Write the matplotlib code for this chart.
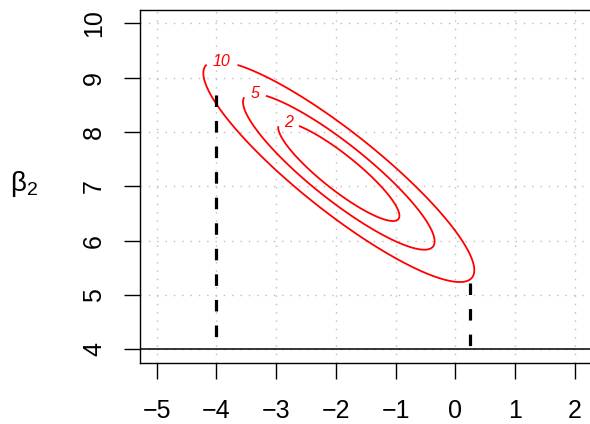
import numpy as np
import matplotlib.pyplot as plt

plt.rcParams["font.family"] = ["Liberation Sans", "DejaVu Sans"]
plt.rcParams["mathtext.fontset"] = "custom"
plt.rcParams["mathtext.rm"] = "Liberation Sans"

# ellipse (quadratic form)
center = np.array([-1.95, 7.27])
cov = np.array([[0.515, -0.411], [-0.411, 0.412]])
levels = [2, 5, 10]
label_pos = [(-2.81, 8.11), (-3.36, 8.70), (-3.91, 9.27)]

# dashed interval lines and the horizontal reference
ci_x = [-4.0, 0.25]
ci_top = [8.68, 5.22]
h_ref = 4

x_ticks = [-5, -4, -3, -2, -1, 0, 1, 2]
y_ticks = [4, 5, 6, 7, 8, 9, 10]


def main():
    fig = plt.figure(figsize=(5.9, 4.24), dpi=100)
    ax = fig.add_axes([0.2373, 0.145, 0.765, 0.831])

    gx = np.linspace(-5.3, 2.3, 500)
    gy = np.linspace(3.7, 10.3, 500)
    X, Y = np.meshgrid(gx, gy)
    A = np.linalg.inv(cov)
    dx, dy = X - center[0], Y - center[1]
    Z = A[0, 0] * dx**2 + 2 * A[0, 1] * dx * dy + A[1, 1] * dy**2

    # dotted grid
    for v in x_ticks:
        ax.axvline(v, color="#bdbdbd", lw=1, dashes=(1, 5), zorder=0)
    for v in y_ticks:
        ax.axhline(v, color="#bdbdbd", lw=1, dashes=(1, 5), zorder=0)

    cs = ax.contour(X, Y, Z, levels=levels, colors="red", linewidths=1.3)
    labels = ax.clabel(cs, fmt="%d", manual=label_pos, inline=True,
                       inline_spacing=7, fontsize=11.5)
    for t in labels:
        t.set_rotation(0)
        t.set_style("italic")

    ax.axhline(h_ref, color="black", lw=1.1)
    # draw each dashed line from the ellipse down so the dash starts at the top
    for x, top in zip(ci_x, ci_top):
        ax.plot([x, x], [top, h_ref], color="black", lw=2.3,
                dashes=(3.6, 4.4), solid_capstyle="butt")

    ax.set_xlim(-5.28, 2.28)
    ax.set_ylim(3.76, 10.24)
    ax.set_xticks(x_ticks)
    ax.set_yticks(y_ticks)
    ax.set_xticklabels([f"\u2212{-v}" if v < 0 else str(v) for v in x_ticks])
    ax.set_yticklabels([str(v) for v in y_ticks], rotation=90, va="center")
    ax.tick_params(length=11.5, width=1, labelsize=18, pad=15)
    ax.tick_params(axis="y", pad=13)
    for s in ax.spines.values():
        s.set_linewidth(1)

    fig.text(24 / 590, 1 - 184 / 424, r"$\mathregular{\beta_2}$",
             fontsize=20, ha="center", va="center")

    fig.savefig("out.png", dpi=100)
    plt.close(fig)


main()
